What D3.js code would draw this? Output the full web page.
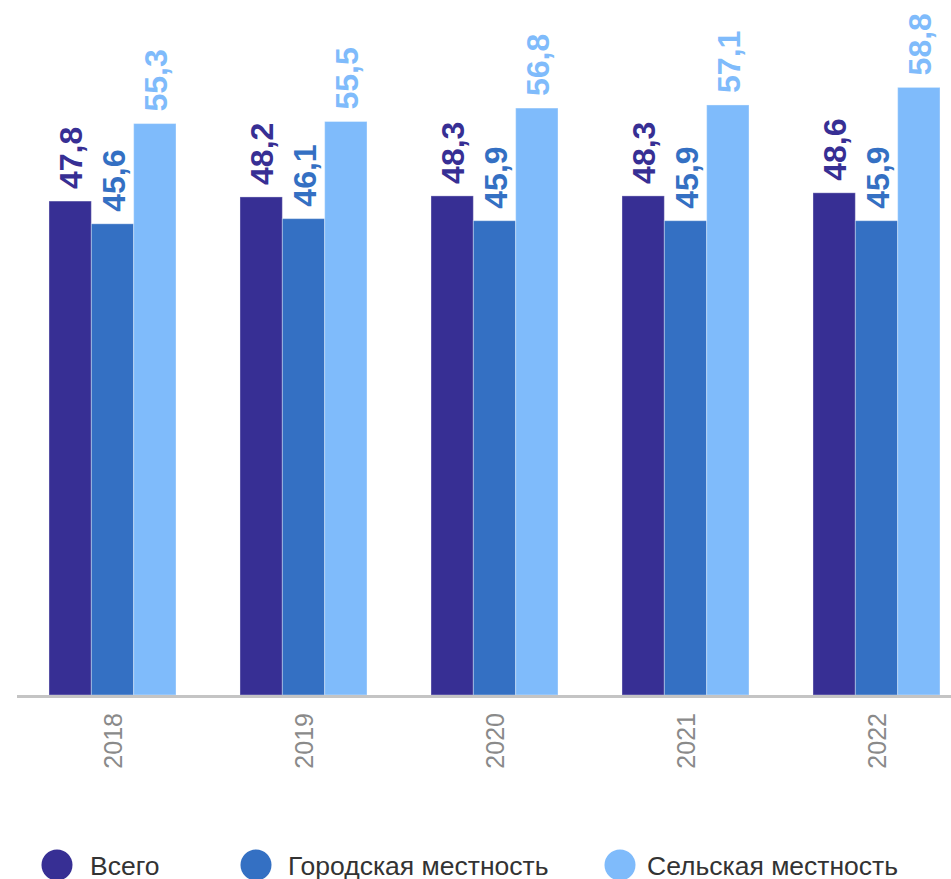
<!DOCTYPE html>
<html>
<head>
<meta charset="utf-8">
<script src="https://cdn.jsdelivr.net/npm/d3@7"></script>
<style>
  body { margin: 0; background: #fff; }
  svg { display: block; }
</style>
</head>
<body>
<svg class="chart" width="951" height="879"></svg>
<script>
const years = ['2018', '2019', '2020', '2021', '2022'];
const seriesNames = ['Всего', 'Городская местность', 'Сельская местность'];
const seriesColors = ['#372f94', '#3470c3', '#7fbbfb'];
const total = [47.8, 48.2, 48.3, 48.3, 48.6];
const urban = [45.6, 46.1, 45.9, 45.9, 45.9];
const rural = [55.3, 55.5, 56.8, 57.1, 58.8];

function drawChart(){
  const svg = d3.select('svg.chart');
  const font = "'Liberation Sans', Arial, sans-serif";
  const baseY = 695;

  const rows = years.map((y, i) => ({
    year: y,
    vals: [total[i], urban[i], rural[i]]
  }));

  const x0 = d3.scaleBand()
      .domain(years)
      .range([17, 972])
      .paddingInner(0.335)
      .paddingOuter(0.1675);

  const x1 = d3.scaleBand()
      .domain([0, 1, 2])
      .range([0, x0.bandwidth()]);

  const yScale = d3.scaleLinear()
      .domain([0, 60])
      .range([baseY, 75]);

  const fmt = v => d3.format('.1f')(v).replace('.', ',');

  const groups = svg.append('g')
      .attr('class', 'groups')
      .selectAll('g.year')
      .data(rows)
      .enter()
      .append('g')
      .attr('class', 'year')
      .attr('transform', d => `translate(${x0(d.year)}, 0)`);

  groups.selectAll('rect')
      .data(d => d.vals)
      .enter()
      .append('rect')
      .attr('x', (d, i) => x1(i))
      .attr('y', d => yScale(d))
      .attr('width', x1.bandwidth())
      .attr('height', d => baseY - yScale(d))
      .attr('fill', (d, i) => seriesColors[i])
      .attr('stroke', 'rgba(255,255,255,0.35)')
      .attr('stroke-width', 1);

  // value labels, rotated
  groups.selectAll('text.val')
      .data(d => d.vals)
      .enter()
      .append('text')
      .attr('class', 'val')
      .attr('transform', (d, i) => `translate(${x1(i) + x1.bandwidth() / 2 + 12}, ${yScale(d) - 12}) rotate(-90)`)
      .text(d => fmt(d))
      .style('fill', (d, i) => seriesColors[i])
      .style('font-family', font)
      .style('font-weight', 'bold')
      .style('font-size', '32px');

  // axis line
  svg.append('line')
      .attr('x1', 17)
      .attr('x2', 951)
      .attr('y1', baseY + 1.5)
      .attr('y2', baseY + 1.5)
      .style('stroke', '#c4c4c4')
      .style('stroke-width', 3);

  // year labels
  svg.append('g')
      .selectAll('text')
      .data(years)
      .enter()
      .append('text')
      .attr('transform', d => `translate(${x0(d) + x0.bandwidth() / 2 + 9}, 713) rotate(-90)`)
      .attr('text-anchor', 'end')
      .text(d => d)
      .style('fill', '#8a8a8a')
      .style('font-family', font)
      .style('font-size', '25px');

  // legend
  const legX = [57, 256, 620];
  const legTx = [33, 32, 27];
  const leg = svg.append('g')
      .attr('class', 'legend')
      .selectAll('g')
      .data(seriesNames)
      .enter()
      .append('g')
      .attr('transform', (d, i) => `translate(${legX[i]}, 865)`);

  leg.append('circle')
      .attr('r', 15.5)
      .attr('fill', (d, i) => seriesColors[i]);

  leg.append('text')
      .attr('x', (d, i) => legTx[i])
      .attr('y', 10)
      .text(d => d)
      .style('fill', '#333')
      .style('font-family', font)
      .style('font-size', '26.5px');
}

drawChart();
</script>
</body>
</html>
